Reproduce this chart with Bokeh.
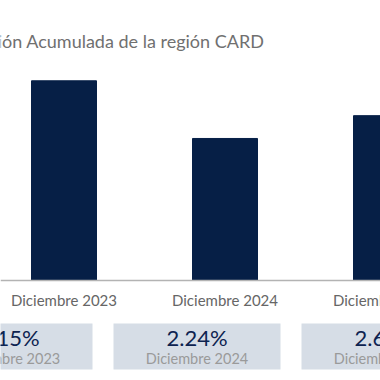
from bokeh.plotting import figure
from bokeh.models import Range1d, Span
from bokeh.core.properties import value
from bokeh.embed import file_html
from bokeh.resources import INLINE

# ---- data ----
categories = ["Diciembre 2023", "Diciembre 2024", "Diciembre 2025"]
inflation = [3.15, 2.24, 2.60]
value_labels = ["3.15%", "2.24%", "2.60%"]
title_text = "Inflación Acumulada de la región CARD"

# ---- layout (screen pixels of the page) ----
ORG = 0             # screen offset of the canvas
W = H = 380
SX = 161.0          # px per category step
SY = 63.4           # px per 1 % point
BASE_PY = 280.0     # screen y of value 0
CAT0_PX = 63.5      # screen x of first category
X0 = -(CAT0_PX - ORG) / SX

def dx(px):
    return X0 + (px - ORG) / SX

def dy(py):
    return (BASE_PY - py) / SY

p = figure(width=W, height=H, output_backend="svg", toolbar_location=None,
           x_range=Range1d(dx(ORG), dx(ORG + W)), y_range=Range1d(dy(ORG + H), dy(ORG)),
           min_border=0, outline_line_color=None)
p.axis.visible = False
p.grid.visible = False
p.background_fill_color = "white"
p.border_fill_color = "white"

xs = list(range(len(categories)))
p.vbar(x=xs, top=inflation, width=65 / SX, bottom=0,
       fill_color="#061f46", line_color="#061f46")

p.add_layout(Span(location=0, dimension="width", line_color="#b3b3b3", line_width=1.5))

FONT = value("Lato")

# title
p.text(x=[dx(264)], y=[dy(40)], text=[title_text], text_font=FONT,
       text_font_size="18px", text_color="#707070", text_align="right",
       text_baseline="middle")

# category labels
p.text(x=xs, y=[dy(299)] * len(xs), text=categories, text_font=FONT,
       text_font_size="15px", text_color="#666666", text_align="center",
       text_baseline="middle")

# cards
BOX_C0, BOX_STEP, BOX_W = 8.5, 188.0, 167.0
bx = [dx(BOX_C0 + BOX_STEP * i) for i in xs]
p.rect(x=bx, y=[dy(346)] * len(xs), width=BOX_W / SX, height=46 / SY,
       fill_color="#d6dde6", line_color=None)
p.text(x=bx, y=[dy(337)] * len(xs), text=value_labels, text_font=FONT,
       text_font_size="22px", text_color="#0d2350", text_align="center",
       text_baseline="middle")
p.text(x=bx, y=[dy(358)] * len(xs), text=categories, text_font=FONT,
       text_font_size="14.5px", text_color="#9a9a9a", text_align="center",
       text_baseline="middle")

open("out.html", "w").write(file_html(p, INLINE))
